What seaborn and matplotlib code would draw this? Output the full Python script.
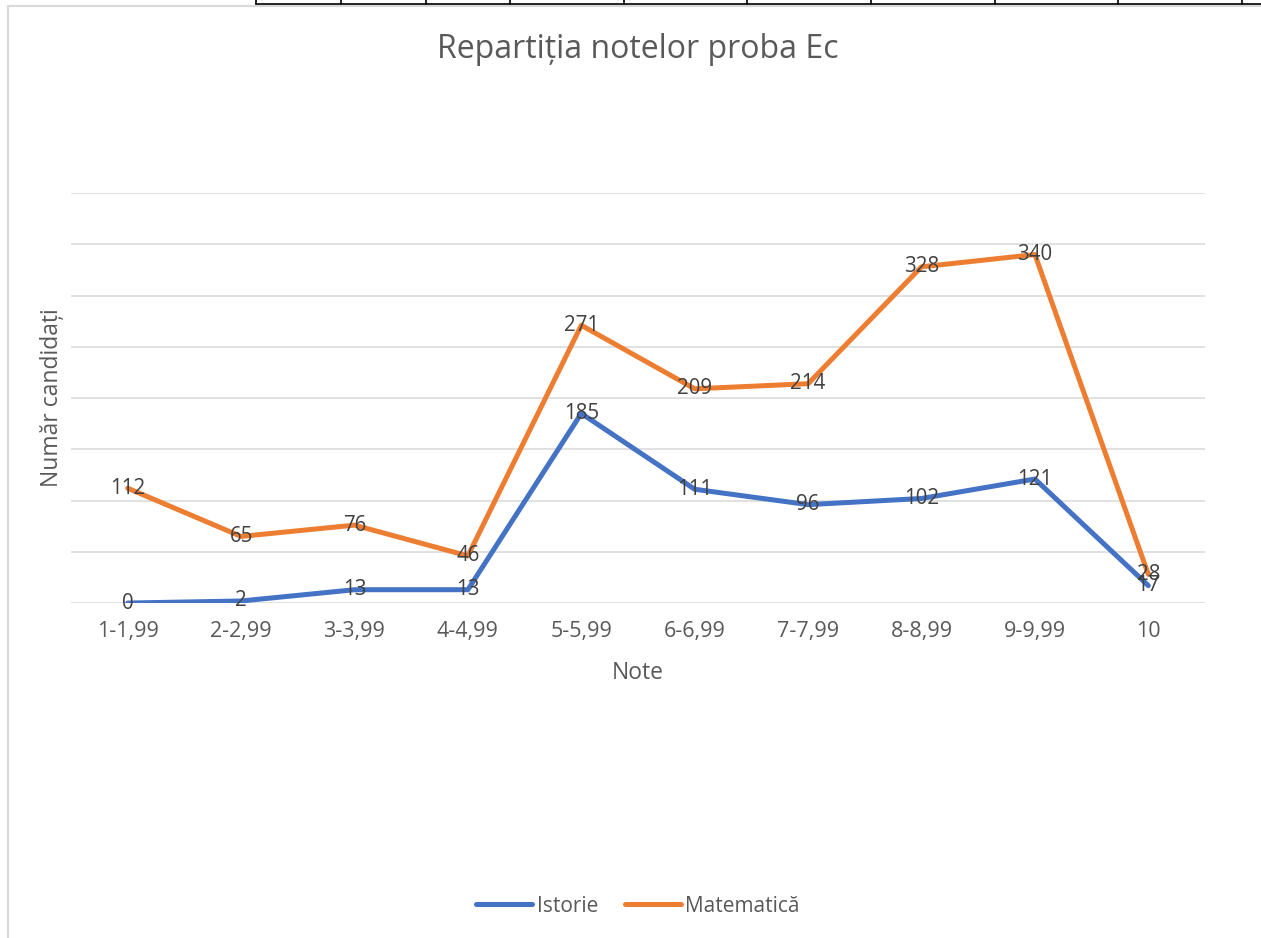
import numpy as np
import pandas as pd
import seaborn as sns
import matplotlib.pyplot as plt
from matplotlib.lines import Line2D

# Data
note = ["1-1,99", "2-2,99", "3-3,99", "4-4,99", "5-5,99",
        "6-6,99", "7-7,99", "8-8,99", "9-9,99", "10"]
istorie = [0, 2, 13, 13, 185, 111, 96, 102, 121, 17]
matematica = [112, 65, 76, 46, 271, 209, 214, 328, 340, 28]
series_names = ["Istorie", "Matematică"]
colors = ["#4472C4", "#ED7D31"]

df = pd.DataFrame({"Note": note, "Istorie": istorie, "Matematică": matematica})
long_df = df.melt(id_vars="Note", var_name="Materie", value_name="Candidati")
long_df["pos"] = long_df["Note"].map({n: i for i, n in enumerate(note)})

sns.set_theme(style="white")
plt.rcParams["font.family"] = ["Open Sans", "DejaVu Sans"]

fig = plt.figure(figsize=(12.61, 9.38), dpi=100)
ax = fig.add_axes([0.0563, 0.3571, 0.8993, 0.4371])

sns.lineplot(data=long_df, x="pos", y="Candidati", hue="Materie",
             hue_order=series_names, palette=colors, linewidth=3.6,
             ax=ax, legend=False, sort=False)
for line in ax.lines:
    line.set_solid_joinstyle("round")
    line.set_solid_capstyle("round")

# data labels centred on the points
for name in series_names:
    for i, v in enumerate(df[name]):
        ax.text(i, v, str(v), ha="center", va="center", fontsize=14.8,
                color="#404040", zorder=5)

ax.set_xlim(-0.5, len(note) - 0.5)
ax.set_ylim(0, 400)
ax.set_yticks(np.arange(0, 401, 50))
ax.set_yticklabels([])
ax.yaxis.grid(True, color="#D9D9D9", linewidth=1.1)
ax.set_axisbelow(True)
ax.set_xticks(range(len(note)))
ax.set_xticklabels(note, fontsize=15.5, color="#595959")
ax.tick_params(axis="both", length=0, pad=13)
for s in ax.spines.values():
    s.set_visible(False)

ax.set_xlabel("Note", fontsize=16.5, color="#595959", va="center")
ax.xaxis.set_label_coords(0.5, -0.171)
ax.set_ylabel("Număr candidați", fontsize=16.5, color="#595959", va="center")
ax.yaxis.set_label_coords(-0.0165, 0.5)
fig.text(0.506, 0.947, "Repartiția notelor proba Ec", ha="center", va="center",
         fontsize=23, color="#595959")

handles = [Line2D([0], [0], color=c, linewidth=3.6, solid_capstyle="round")
           for c in colors]
fig.legend(handles, series_names, loc="center", bbox_to_anchor=(0.506, 0.034),
           ncol=2, frameon=False, fontsize=15, labelcolor="#595959",
           handlelength=2.7, handletextpad=0.2, columnspacing=1.3)

# sheet cell borders and chart frame seen at the top edge
W, H = 1261, 938
fig.add_artist(Line2D([8 / W, 8 / W], [0, 1 - 6 / H], color="#D9D9D9", linewidth=1.5))
fig.add_artist(Line2D([8 / W, 1], [1 - 6 / H, 1 - 6 / H], color="#D9D9D9", linewidth=1.5))
fig.add_artist(Line2D([256 / W, 1], [1 - 4 / H, 1 - 4 / H], color="black", linewidth=1.2))
for xc in [256, 341, 426, 510, 624, 747, 871, 995, 1118, 1242]:
    fig.add_artist(Line2D([xc / W, xc / W], [1 - 4 / H, 1], color="black", linewidth=1.2))

fig.savefig("out.png", dpi=100, facecolor="white")
